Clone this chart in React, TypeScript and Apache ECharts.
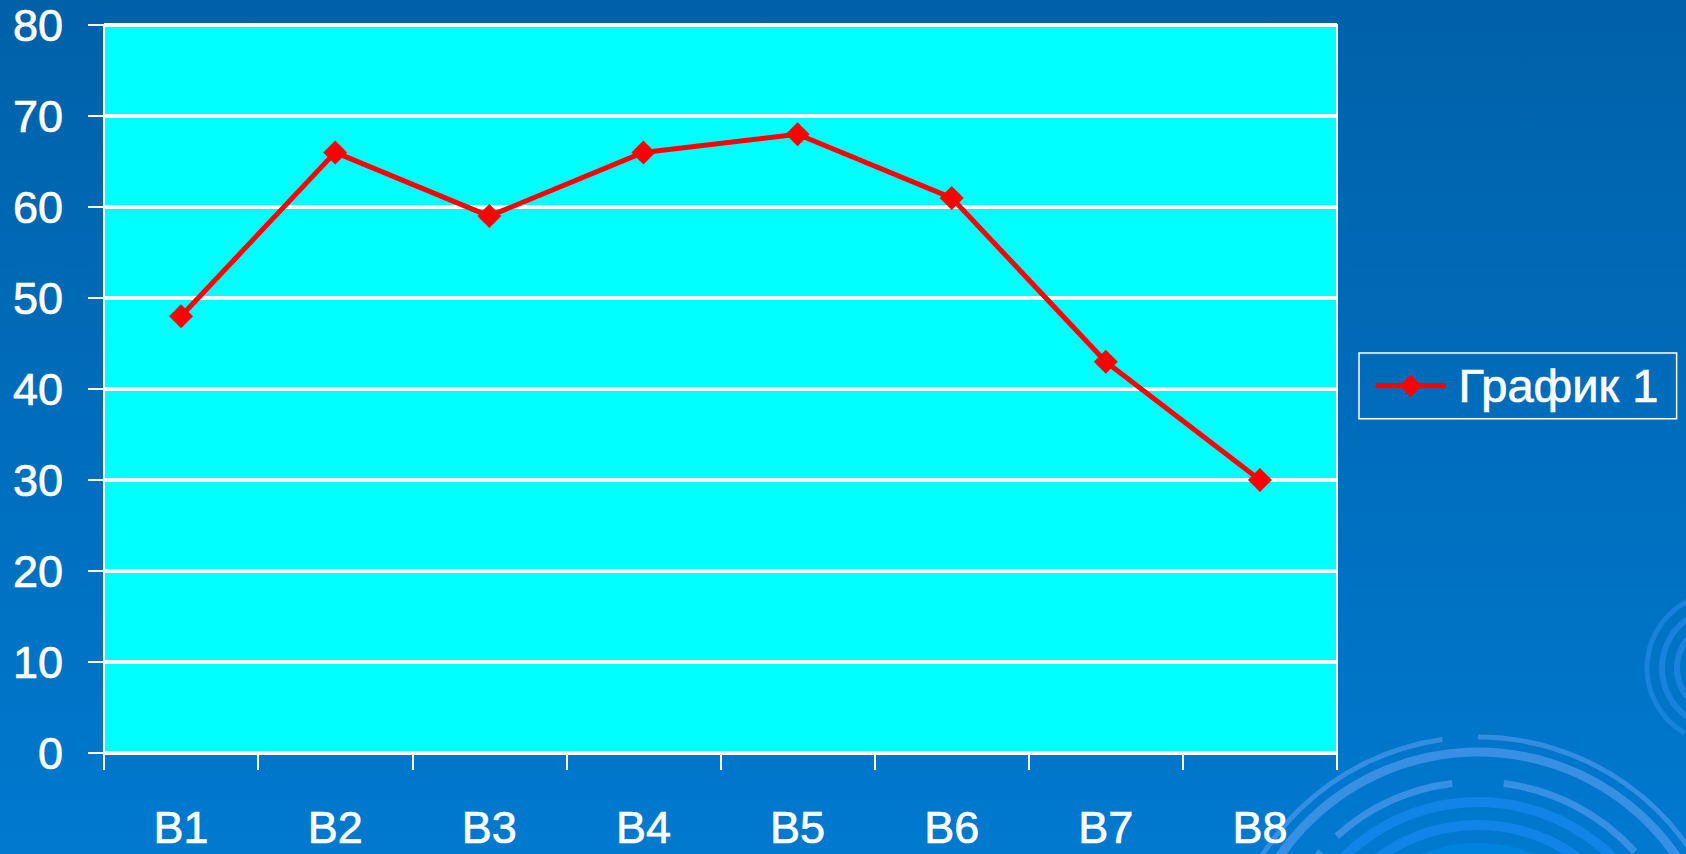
import React, { useEffect, useRef } from "react";
import * as echarts from "echarts";

const categories = ["B1", "B2", "B3", "B4", "B5", "B6", "B7", "B8"];
const seriesName = "График 1";
const values = [48, 66, 59, 66, 68, 61, 43, 30];
const yMin = 0;
const yMax = 80;
const yInterval = 10;

export default function App() {
  const ref = useRef<HTMLDivElement>(null);
  useEffect(() => {
    if (!ref.current) return;
    const chart = echarts.init(ref.current, undefined, { renderer: "svg" });
    const font = "Liberation Sans, Arial, sans-serif";
    const deg = (d: number) => (d * Math.PI) / 180;
    const arcs: any[] = [];
    const cx = 1478, cy = 993;
    const rings = [
      { r: 256, w: 5, s: 190, e: 262, c: "rgba(70,150,235,0.75)" },
      { r: 256, w: 5, s: 270, e: 340, c: "rgba(70,150,235,0.75)" },
      { r: 241, w: 9, s: 185, e: 350, c: "rgba(70,150,235,0.8)" },
      { r: 211, w: 7, s: 205, e: 222, c: "rgba(70,150,235,0.8)" },
      { r: 211, w: 7, s: 228, e: 263, c: "rgba(70,150,235,0.8)" },
      { r: 211, w: 7, s: 277, e: 318, c: "rgba(70,150,235,0.8)" },
      { r: 211, w: 7, s: 325, e: 345, c: "rgba(70,150,235,0.8)" },
      { r: 191, w: 10, s: 190, e: 350, c: "rgba(20,135,235,0.85)" },
      { r: 168, w: 10, s: 190, e: 350, c: "rgba(20,135,235,0.85)" },
    ];
    rings.forEach((g) =>
      arcs.push({
        type: "arc",
        silent: true,
        z: -1,
        shape: { cx, cy, r: g.r, startAngle: deg(g.s), endAngle: deg(g.e) },
        style: { stroke: g.c, lineWidth: g.w, fill: null },
      })
    );
    arcs.push({
      type: "circle",
      silent: true,
      z: -2,
      shape: { cx, cy, r: 150 },
      style: { fill: "rgba(0,140,240,0.5)" },
    });
    [{ r: 75, w: 5 }, { r: 60, w: 6 }, { r: 45, w: 6 }, { r: 30, w: 6 }].forEach((g) =>
      arcs.push({
        type: "arc",
        silent: true,
        z: -1,
        shape: { cx: 1722, cy: 668, r: g.r, startAngle: deg(120), endAngle: deg(250) },
        style: { stroke: "rgba(40,140,235,0.6)", lineWidth: g.w, fill: null },
      })
    );
    const thick = { textBorderColor: "#FFFFFF", textBorderWidth: 0.7 };
    chart.setOption({
      animation: false,
      backgroundColor: {
        type: "linear",
        x: 0, y: 0, x2: 0, y2: 1,
        colorStops: [
          { offset: 0, color: "#0061A9" },
          { offset: 1, color: "#0079CF" },
        ],
      },
      graphic: arcs,
      textStyle: { fontFamily: font },
      grid: {
        left: 104, top: 23, width: 1233, height: 730,
        show: true, backgroundColor: "#00FFFF", borderColor: "#FFFFFF", borderWidth: 2,
      },
      legend: {
        left: 1359, top: 353,
        padding: [9, 18, 9, 14],
        borderColor: "#FFFFFF", borderWidth: 1.5, borderRadius: 0,
        itemWidth: 70, itemHeight: 28, itemGap: 10,
        lineStyle: { width: 5, color: "#FF0000" },
        textStyle: { color: "#FFFFFF", fontSize: 47, fontFamily: font, padding: [0, 0, 0, 8], ...thick },
        data: [seriesName],
      },
      xAxis: {
        type: "category",
        data: categories,
        boundaryGap: true,
        axisLine: { lineStyle: { color: "#FFFFFF", width: 2 } },
        axisTick: { show: true, length: 17, lineStyle: { color: "#FFFFFF", width: 2 } },
        axisLabel: { color: "#FFFFFF", fontSize: 45, margin: 52, fontFamily: font, ...thick },
        splitLine: { show: false },
      },
      yAxis: {
        type: "value",
        min: yMin, max: yMax, interval: yInterval,
        axisLine: { show: true, lineStyle: { color: "#FFFFFF", width: 2 } },
        axisTick: { show: true, length: 16, lineStyle: { color: "#FFFFFF", width: 2 } },
        axisLabel: {
          color: "#FFFFFF", fontSize: 45, lineHeight: 40, margin: 41, fontFamily: font,
          verticalAlign: "middle", padding: [10, 0, 0, 0], ...thick,
        },
        splitLine: { show: true, lineStyle: { color: "#FFFFFF", width: 4 } },
      },
      series: [
        {
          name: seriesName,
          type: "line",
          data: values,
          symbol: "diamond",
          symbolSize: 24,
          showAllSymbol: true,
          lineStyle: { color: "#FF0000", width: 5 },
          itemStyle: { color: "#FF0000" },
        },
      ],
    });
    return () => chart.dispose();
  }, []);
  return (
    <div
      ref={ref}
      style={{ position: "fixed", left: 0, top: 0, width: 1686, height: 854 }}
    />
  );
}
